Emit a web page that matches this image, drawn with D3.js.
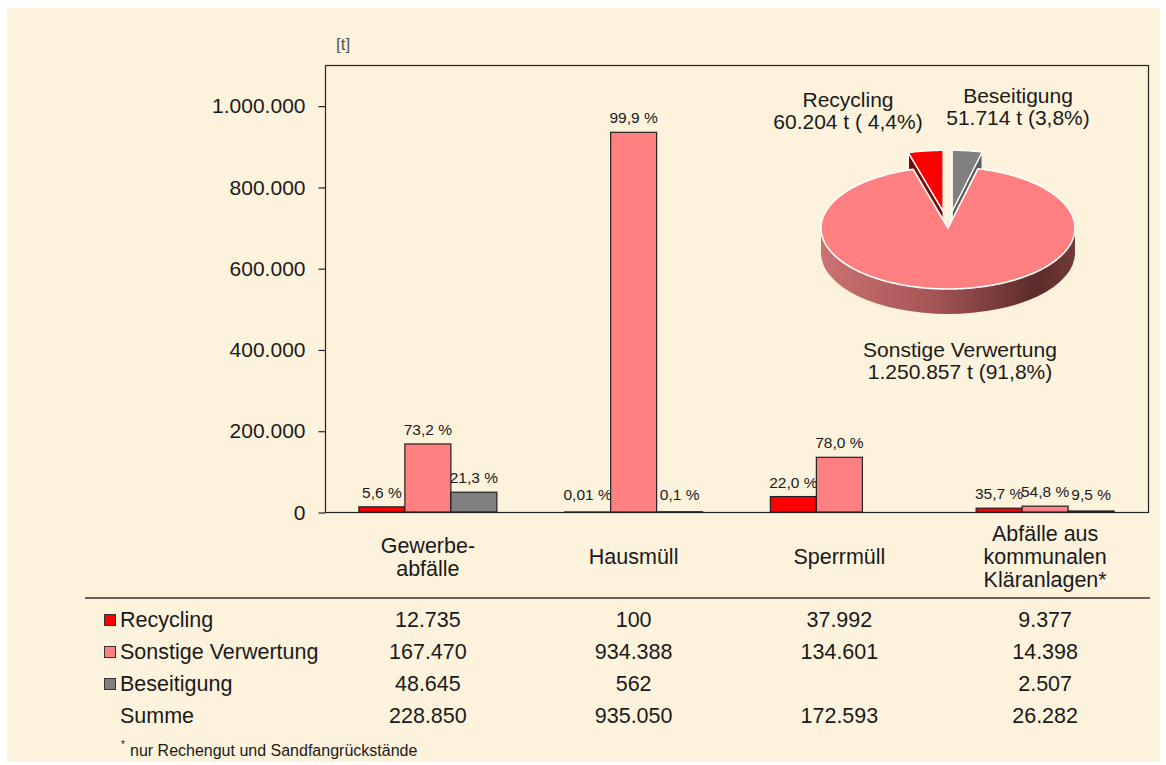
<!DOCTYPE html>
<html>
<head>
<meta charset="utf-8">
<script src="https://cdn.jsdelivr.net/npm/d3@7"></script>
<style>
  body { margin: 0; background: #fff; }
  text { font-family: "Liberation Sans", Arial, sans-serif; fill: #1a1a1a; }
</style>
</head>
<body>
<div id="chart"></div>
<script>
// Data
var categories = ["Gewerbeabfälle", "Hausmüll", "Sperrmüll", "Kläranlagen"];
var categoryLines = [["Gewerbe-", "abfälle"], ["Hausmüll"], ["Sperrmüll"], ["Abfälle aus", "kommunalen", "Kläranlagen*"]];
var series = ["Recycling", "Sonstige Verwertung", "Beseitigung"];
var recycling = [12735, 100, 37992, 9377];
var sonstige = [167470, 934388, 134601, 14398];
var beseitigung = [48645, 562, null, 2507];
var summe = [228850, 935050, 172593, 26282];
var pctRecycling = ["5,6 %", "0,01 %", "22,0 %", "35,7 %"];
var pctSonstige = ["73,2 %", "99,9 %", "78,0 %", "54,8 %"];
var pctBeseitigung = ["21,3 %", "0,1 %", "", "9,5 %"];
var yTicks = [0, 200000, 400000, 600000, 800000, 1000000];

var pieNames = ["Beseitigung", "Sonstige Verwertung", "Recycling"];
var pieValues = [51714, 1250857, 60204];
var pieTexts = ["51.714 t (3,8%)", "1.250.857 t (91,8%)", "60.204 t ( 4,4%)"];

var colors = {"Recycling": "#ff0000", "Sonstige Verwertung": "#ff8080", "Beseitigung": "#808080"};
var wallColors = {"Recycling": "#7a0a0a", "Beseitigung": "#5c5c5c"};

var values = [recycling, sonstige, beseitigung];
var pcts = [pctRecycling, pctSonstige, pctBeseitigung];

var de = d3.formatLocale({decimal: ",", thousands: ".", grouping: [3], currency: ["", " €"]});
var fmt = de.format(",");

var svgWidth = 1166, svgHeight = 765;
var svg = d3.select("#chart").append("svg")
    .attr("width", svgWidth)
    .attr("height", svgHeight);

svg.append("rect")
    .attr("x", 7).attr("y", 8)
    .attr("width", 1153).attr("height", 754)
    .attr("fill", "#fdf3dc");

// plot area
var plotLeft = 325, plotRight = 1148, plotTop = 65, plotBottom = 512;

var y = d3.scaleLinear().domain([0, 1100000]).range([plotBottom, plotTop]);
var x0 = d3.scaleBand().domain(categories).range([plotLeft, plotRight]);
var groupW = 138;
var x1 = d3.scaleBand().domain(series).range([0, groupW]);
var groupOff = (x0.bandwidth() - groupW) / 2;

svg.append("rect")
    .attr("x", plotLeft + 0.5).attr("y", plotTop + 0.5)
    .attr("width", plotRight - plotLeft).attr("height", plotBottom - plotTop)
    .attr("fill", "none").attr("stroke", "#222").attr("stroke-width", 1.2);

var yAxis = svg.append("g")
    .attr("transform", "translate(" + (plotLeft + 0.5) + ",0.5)")
    .call(d3.axisLeft(y).tickValues(yTicks).tickSize(7).tickPadding(13).tickFormat(fmt));
yAxis.select(".domain").remove();
yAxis.selectAll("line").attr("stroke", "#222").attr("stroke-width", 1.2);
yAxis.selectAll("text")
    .style("font-size", "21px")
    .style("font-family", "'Liberation Sans', Arial, sans-serif")
    .attr("fill", "#1a1a1a");

svg.append("text")
    .attr("x", 336).attr("y", 50)
    .style("font-size", "17px").style("fill", "#555")
    .text("[t]");

// bars
series.forEach(function(s, si) {
    var rows = categories.map(function(c, ci) { return {cat: c, v: values[si][ci], label: pcts[si][ci]}; })
        .filter(function(d) { return d.v != null; });

    svg.append("g").selectAll("rect")
        .data(rows)
        .enter()
        .append("rect")
        .attr("x", function(d) { return x0(d.cat) + groupOff + x1(s); })
        .attr("y", function(d) { return y(d.v); })
        .attr("width", x1.bandwidth())
        .attr("height", function(d) { return plotBottom - y(d.v); })
        .attr("fill", colors[s])
        .attr("stroke", "#222")
        .attr("stroke-width", 1.2);

    svg.append("g").selectAll("text")
        .data(rows)
        .enter()
        .append("text")
        .attr("x", function(d) { return x0(d.cat) + groupOff + x1(s) + x1.bandwidth() / 2; })
        .attr("y", function(d) { return Math.min(y(d.v) - 9, 500); })
        .attr("text-anchor", "middle")
        .style("font-size", "15.5px")
        .text(function(d) { return d.label; });
});

// category labels
categories.forEach(function(c, ci) {
    var lines = categoryLines[ci];
    var t = svg.append("text")
        .attr("text-anchor", "middle")
        .style("font-size", "21.5px");
    lines.forEach(function(l, li) {
        t.append("tspan")
            .attr("x", x0(c) + x0.bandwidth() / 2)
            .attr("y", 557 + (li - (lines.length - 1) / 2) * 23 + 7)
            .text(l);
    });
});

// table
svg.append("line")
    .attr("x1", 85).attr("x2", 1150)
    .attr("y1", 598).attr("y2", 598)
    .attr("stroke", "#333").attr("stroke-width", 1.5);

var rowNames = series.concat(["Summe"]);
var rowValues = [recycling, sonstige, beseitigung, summe];
rowNames.forEach(function(name, ri) {
    var by = 627 + ri * 32;
    if (colors[name] && ri < 3) {
        svg.append("rect")
            .attr("x", 104.5).attr("y", by - 12.5)
            .attr("width", 11).attr("height", 11)
            .attr("fill", colors[name])
            .attr("stroke", "#333").attr("stroke-width", 1);
    }
    svg.append("text")
        .attr("x", 120).attr("y", by)
        .style("font-size", "21.5px")
        .text(name);
    categories.forEach(function(c, ci) {
        var v = rowValues[ri][ci];
        if (v == null) return;
        svg.append("text")
            .attr("x", x0(c) + x0.bandwidth() / 2)
            .attr("y", by)
            .attr("text-anchor", "middle")
            .style("font-size", "21.5px")
            .text(fmt(v));
    });
});

svg.append("text")
    .attr("x", 121).attr("y", 748)
    .style("font-size", "10px")
    .text("*");
svg.append("text")
    .attr("x", 130).attr("y", 756)
    .style("font-size", "16px")
    .text("nur Rechengut und Sandfangrückstände");

// 3D pie
var cx = 948, cy = 228, rx = 127, ry = 61, depth = 25, explode = 35;
var k = ry / rx;
var arcs = d3.pie().sort(null).value(function(d) { return d; })(pieValues);

function proj(theta, r, off) {
    return [cx + r * Math.sin(theta) + off[0], cy - r * Math.cos(theta) * k + off[1]];
}
function facePath(a0, a1, off) {
    var pts = [[cx + off[0], cy + off[1]]];
    var n = Math.max(2, Math.ceil((a1 - a0) / (Math.PI / 180)));
    for (var i = 0; i <= n; i++) {
        pts.push(proj(a0 + (a1 - a0) * i / n, rx, off));
    }
    return "M" + pts.map(function(p) { return p.join(","); }).join("L") + "Z";
}

var defs = svg.append("defs");
var grad = defs.append("linearGradient")
    .attr("id", "sideGrad")
    .attr("gradientUnits", "userSpaceOnUse")
    .attr("x1", cx - rx).attr("x2", cx + rx)
    .attr("y1", 0).attr("y2", 0);
[["0%", "#cc7272"], ["45%", "#a45454"], ["85%", "#5c2b2b"], ["100%", "#703a3a"]].forEach(function(s) {
    grad.append("stop").attr("offset", s[0]).attr("stop-color", s[1]);
});

var pieG = svg.append("g");

// small exploded slices first
arcs.forEach(function(a, i) {
    var name = pieNames[i];
    if (name === "Sonstige Verwertung") return;
    var mid = (a.startAngle + a.endAngle) / 2;
    var off = [explode * Math.sin(mid), -explode * Math.cos(mid) * k];
    [[a.startAngle, Math.sin(a.startAngle) < 0], [a.endAngle, Math.sin(a.endAngle) > 0]].forEach(function(w) {
        if (!w[1]) return;
        var p = proj(w[0], rx, off);
        var c0 = [cx + off[0], cy + off[1]];
        var wall = [c0, p, [p[0], p[1] + depth], [c0[0], c0[1] + depth]];
        pieG.append("path")
            .attr("d", "M" + wall.map(function(q) { return q.join(","); }).join("L") + "Z")
            .attr("fill", wallColors[name])
            .attr("stroke", "#fff").attr("stroke-width", 1.2).attr("stroke-linejoin", "round");
    });
    pieG.append("path")
        .attr("d", facePath(a.startAngle, a.endAngle, off))
        .attr("fill", colors[name])
        .attr("stroke", "#fff").attr("stroke-width", 1.4).attr("stroke-linejoin", "round");
});

// big slice: front side then top
pieG.append("path")
    .attr("d", "M" + (cx + rx) + "," + cy +
        "A" + rx + "," + ry + " 0 0 1 " + (cx - rx) + "," + cy +
        "L" + (cx - rx) + "," + (cy + depth) +
        "A" + rx + "," + ry + " 0 0 0 " + (cx + rx) + "," + (cy + depth) + "Z")
    .attr("fill", "url(#sideGrad)");

arcs.forEach(function(a, i) {
    if (pieNames[i] !== "Sonstige Verwertung") return;
    pieG.append("path")
        .attr("d", facePath(a.startAngle, a.endAngle, [0, 0]))
        .attr("fill", colors["Sonstige Verwertung"])
        .attr("stroke", "#fff").attr("stroke-width", 1.6).attr("stroke-linejoin", "round");
});

// pie labels
var pieLabelPos = {"Recycling": [848, 107], "Beseitigung": [1018, 103], "Sonstige Verwertung": [960, 357]};
pieNames.forEach(function(name, i) {
    var pos = pieLabelPos[name];
    var t = svg.append("text").attr("text-anchor", "middle").style("font-size", "21px");
    t.append("tspan").attr("x", pos[0]).attr("y", pos[1]).text(name);
    t.append("tspan").attr("x", pos[0]).attr("y", pos[1] + 22).text(pieTexts[i]);
});
</script>
</body>
</html>
